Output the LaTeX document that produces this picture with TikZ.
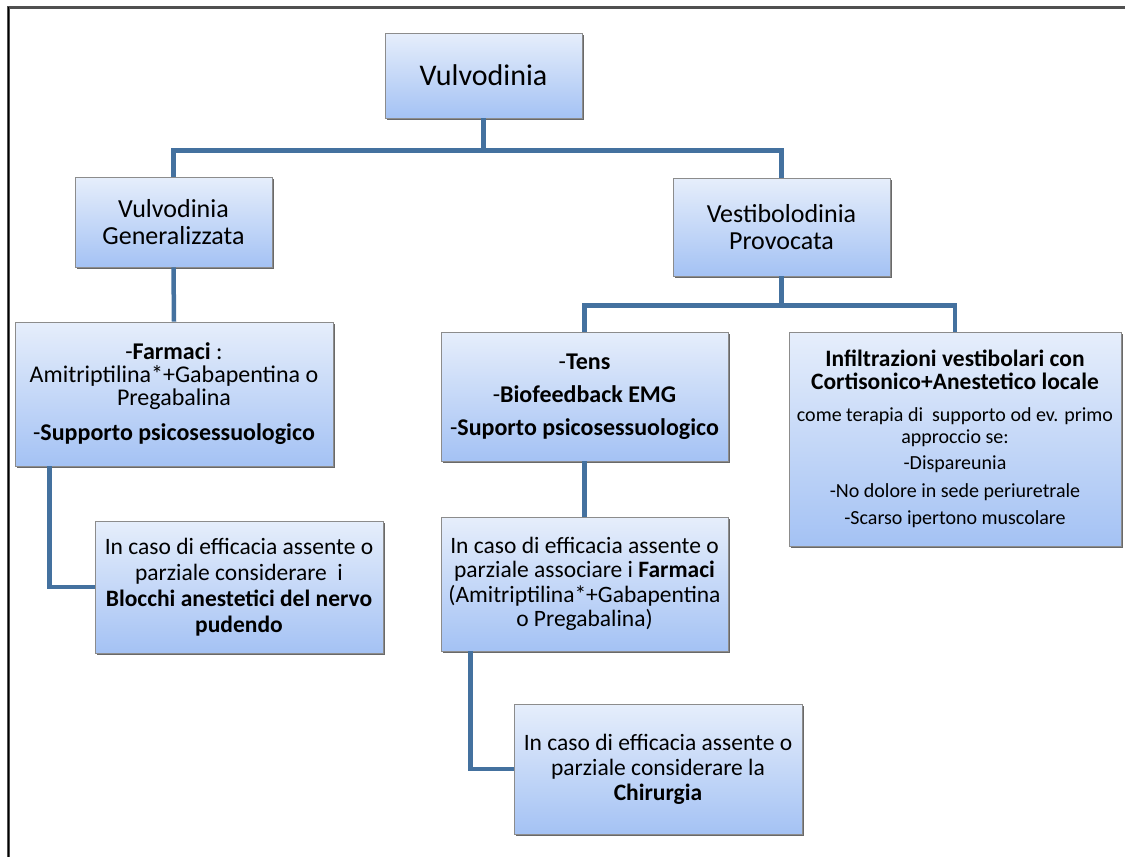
\documentclass[tikz,border=0pt]{standalone}
\usepackage{fontspec}
\setmainfont{Carlito}
\usetikzlibrary{shadows}
\definecolor{boxtop}{HTML}{E6EEFB}
\definecolor{boxbot}{HTML}{A4C2F4}
\definecolor{boxline}{HTML}{8C8C8C}
\definecolor{conncol}{HTML}{44719F}
\definecolor{framecol}{HTML}{505050}
\tikzset{
  box/.style={draw=boxline, line width=0.8pt, top color=boxtop, bottom color=boxbot,
    inner sep=0pt, align=center, text=black,
    drop shadow={shadow xshift=2pt, shadow yshift=-2pt, fill=black!65, opacity=0.9}},
  conn/.style={draw=conncol, line width=4.5pt},
}
\newcommand{\fs}[2]{\fontsize{#1}{#2}\selectfont\lineskiplimit=-50pt}
\begin{document}
\begin{tikzpicture}[x=1pt,y=-1pt]
\useasboundingbox (0,0) rectangle (1125,857);
\draw[framecol, line width=3pt] (8.5,857) -- (8.5,7.5) -- (1125,7.5);
\draw[black, line width=1.5pt] (8.5,857) -- (8.5,7);

\node[box, minimum width=197pt, minimum height=85pt, font=\fs{30}{32}] (v) at (483.5,75.5) {Vulvodinia};
\node[box, minimum width=197pt, minimum height=90pt, font=\fs{26}{27}] (vg) at (173.5,222) {Vulvodinia\\Generalizzata};
\node[box, minimum width=217pt, minimum height=98pt, font=\fs{26}{27}] (vp) at (781.5,227) {Vestibolodinia\\Provocata};
\node[box, minimum width=318pt, minimum height=144pt, font=\fs{24}{23}] (farm) at (174,394) {-\textbf{Farmaci} :\\Amitriptilina*+Gabapentina o\\Pregabalina\\[12pt]-\textbf{Supporto psicosessuologico}};
\node[box, minimum width=287pt, minimum height=129pt, font=\fs{24}{33}] (tens) at (584.5,396.5) {-\textbf{Tens}\\-\textbf{Biofeedback EMG}\\-\textbf{Suporto psicosessuologico}};
\node[box, minimum width=332pt, minimum height=214pt, font=\fs{20}{22}] (inf) at (955,439) {{\fs{23.5}{22}\bfseries Infiltrazioni vestibolari con}\\[1pt]{\fs{23.5}{22}\bfseries Cortisonico+Anestetico locale}\\[10pt]come terapia di\ \ supporto od ev. primo\\approccio se:\\[4pt]-Dispareunia\\[6pt]-No dolore in sede periuretrale\\[5pt]-Scarso ipertono muscolare};
\node[box, minimum width=288pt, minimum height=132pt, font=\fs{23.5}{26}] (bloc) at (239,587) {In caso di efficacia assente o\\parziale considerare\ \ i\\\textbf{Blocchi anestetici del nervo}\\\textbf{pudendo}};
\node[box, minimum width=287pt, minimum height=134pt, font=\fs{23.5}{24.5}] (assoc) at (584.5,584) {In caso di efficacia assente o\\parziale associare i \textbf{Farmaci}\\(Amitriptilina*+Gabapentina\\o Pregabalina)};
\node[box, minimum width=288pt, minimum height=130pt, font=\fs{23.5}{25}] (chir) at (658,769) {In caso di efficacia assente o\\parziale considerare la\\\textbf{Chirurgia}};

\draw[conn] (v.south) -- ++(0,32) -| (vg.north);
\draw[conn] (v.south) ++(0,32) -| (vp.north);
\draw[conn] (vg.south) -- (farm.north);
\draw[conn] (vp.south) -- ++(0,29) -| (tens.north);
\draw[conn] (vp.south) ++(0,29) -| (inf.north);
\draw[conn] ([xshift=35pt]farm.south west) |- (bloc.west);
\draw[conn] (tens.south) -- (assoc.north);
\draw[conn] ([xshift=30pt]assoc.south west) |- (chir.west);
\end{tikzpicture}
\end{document}
